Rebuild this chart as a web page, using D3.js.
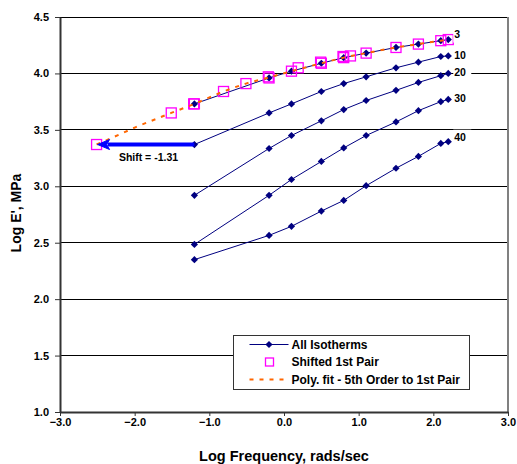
<!DOCTYPE html>
<html><head><meta charset="utf-8">
<script src="https://cdn.jsdelivr.net/npm/d3@7"></script>
<style>
html,body{margin:0;padding:0;background:#fff;}
text{font-family:"Liberation Sans",Arial,sans-serif;font-weight:bold;fill:#000;}
</style></head>
<body><svg id="c" width="517" height="464"></svg>
<script>
// ---- data ----
const logFreq = [-1.2, -0.2, 0.1, 0.5, 0.8, 1.1, 1.5, 1.8, 2.1, 2.2];
const isoNames = ["3", "10", "20", "30", "40"];
const iso3  = [3.73, 3.96, 4.02, 4.09, 4.14, 4.18, 4.23, 4.26, 4.29, 4.30];
const iso10 = [3.37, 3.65, 3.73, 3.84, 3.91, 3.97, 4.05, 4.10, 4.15, 4.155];
const iso20 = [2.92, 3.335, 3.45, 3.58, 3.68, 3.76, 3.85, 3.92, 3.98, 4.00];
const iso30 = [2.485, 2.92, 3.06, 3.22, 3.34, 3.45, 3.57, 3.67, 3.75, 3.77];
const iso40 = [2.35, 2.565, 2.645, 2.78, 2.875, 3.005, 3.16, 3.265, 3.38, 3.395];
const shiftValue = -1.31;
const fitX = [-2.51, -2.2, -2.0, -1.7, -1.51, -1.2, -0.81, -0.51, -0.2, 0.1, 0.5, 0.8, 1.1, 1.5, 1.8, 2.1, 2.2];
const fitY = [3.37, 3.46, 3.52, 3.60, 3.65, 3.73, 3.84, 3.91, 3.965, 4.02, 4.09, 4.14, 4.18, 4.23, 4.26, 4.29, 4.30];
const xTicks = [-3, -2, -1, 0, 1, 2, 3];
const yTicks = [1.0, 1.5, 2.0, 2.5, 3.0, 3.5, 4.0, 4.5];
const legendLabels = ["All Isotherms", "Shifted 1st Pair", "Poly. fit - 5th Order to 1st Pair"];

// ---- build ----
const isotherms = [iso3, iso10, iso20, iso30, iso40];
const labelNudge = [-5, -1, -1, -1, -4];
const shifted = logFreq.map((f, i) => ({x: f, y: iso3[i]}))
  .concat(logFreq.map((f, i) => ({x: f + shiftValue, y: iso10[i]})));
const fit = fitX.map((x, i) => ({x, y: fitY[i]}));

const svg = d3.select("#c");
svg.append("rect").attr("width", 517).attr("height", 464).attr("fill", "#fff");
const L = 60, R = 508, T = 17, B = 412;
const x = d3.scaleLinear().domain([-3, 3]).range([L, R]);
const y = d3.scaleLinear().domain([1.0, 4.5]).range([B, T]);

// gridlines
svg.append("g").selectAll("line").data(yTicks.filter(v => v > 1.0)).join("line")
  .attr("x1", L).attr("x2", R).attr("y1", d => y(d)).attr("y2", d => y(d))
  .attr("stroke", "#000").attr("stroke-width", 1).attr("shape-rendering", "crispEdges");
// right border
svg.append("line").attr("x1", R).attr("x2", R).attr("y1", T).attr("y2", B)
  .attr("stroke", "#808080").attr("stroke-width", 2);

// axes
const fmt = d3.format(".1f");
const gx = svg.append("g").attr("transform", `translate(0,${B})`)
  .call(d3.axisBottom(x).tickValues(xTicks).tickFormat(fmt).tickSize(4).tickSizeOuter(0).tickPadding(2));
const gy = svg.append("g").attr("transform", `translate(${L},0)`)
  .call(d3.axisLeft(y).tickValues(yTicks).tickFormat(fmt).tickSize(5).tickSizeOuter(0).tickPadding(6));
[gx, gy].forEach(g => {
  g.selectAll("text").style("font-size", "11px").style("font-family", "'Liberation Sans',Arial,sans-serif").style("font-weight", "bold").attr("fill", "#000");
  g.selectAll("line").attr("stroke", "#333");
  g.select(".domain").attr("stroke", "#333").attr("stroke-width", 2);
});

// isotherm lines
const line = d3.line().x(d => x(d.x)).y(d => y(d.y));
const diamond = s => `M0,${-s}L${s},0L0,${s}L${-s},0Z`;
isotherms.forEach(vals => {
  const pts = logFreq.map((f, i) => ({x: f, y: vals[i]}));
  svg.append("path").datum(pts).attr("d", line).attr("fill", "none")
    .attr("stroke", "#000080").attr("stroke-width", 1);
  svg.append("g").selectAll("path").data(pts).join("path")
    .attr("transform", d => `translate(${x(d.x)},${y(d.y)})`)
    .attr("d", diamond(3.6)).attr("fill", "#000080");
});

// shifted squares
svg.append("g").selectAll("rect").data(shifted).join("rect")
  .attr("x", d => x(d.x) - 5).attr("y", d => y(d.y) - 5)
  .attr("width", 10).attr("height", 10)
  .attr("fill", "none").attr("stroke", "#FF00FF").attr("stroke-width", 1.3);

// poly fit
svg.append("path").datum(fit).attr("d", line.curve(d3.curveMonotoneX)).attr("fill", "none")
  .attr("stroke", "#FF6600").attr("stroke-width", 2).attr("stroke-dasharray", "4,6");

// shift arrow
const ax0 = x(logFreq[0]), ax1 = x(logFreq[0] + shiftValue), ay = y(iso10[0]);
svg.append("line").attr("x1", ax0).attr("x2", ax1 + 11).attr("y1", ay).attr("y2", ay)
  .attr("stroke", "#0000FF").attr("stroke-width", 4);
svg.append("path").attr("d", `M${ax1 + 1},${ay}L${ax1 + 13},${ay - 5}L${ax1 + 10},${ay}L${ax1 + 13},${ay + 5}Z`)
  .attr("fill", "#0000FF").attr("stroke", "#0000FF").attr("stroke-width", 1);
svg.append("text").attr("x", (ax0 + ax1) / 2 + 3).attr("y", ay + 16).attr("text-anchor", "middle")
  .style("font-size", "10.5px").text("Shift = " + shiftValue.toFixed(2));

// series labels
isotherms.forEach((vals, k) => {
  const last = vals[vals.length - 1];
  const ly = y(last) + labelNudge[k];
  const lx = x(logFreq[logFreq.length - 1]) + 6;
  svg.append("rect").attr("x", lx - 1).attr("y", ly - 8).attr("width", 18).attr("height", 16).attr("fill", "#fff");
  svg.append("text").attr("x", lx).attr("y", ly).attr("dy", "0.35em")
    .style("font-size", "10.5px").text(isoNames[k]);
});

// legend
const lg = svg.append("g").attr("transform", "translate(233.5,335.5)");
lg.append("rect").attr("width", 236).attr("height", 54).attr("fill", "#fff").attr("stroke", "#333").attr("stroke-width", 1);
const rowY = [9, 26.5, 44];
lg.append("line").attr("x1", 16).attr("x2", 55).attr("y1", rowY[0]).attr("y2", rowY[0]).attr("stroke", "#000080").attr("stroke-width", 1);
lg.append("path").attr("transform", `translate(35.5,${rowY[0]})`).attr("d", diamond(3.6)).attr("fill", "#000080");
lg.append("rect").attr("x", 32).attr("y", rowY[1] - 4).attr("width", 8).attr("height", 8)
  .attr("fill", "none").attr("stroke", "#FF00FF").attr("stroke-width", 1.3);
lg.append("line").attr("x1", 16).attr("x2", 56).attr("y1", rowY[2]).attr("y2", rowY[2])
  .attr("stroke", "#FF6600").attr("stroke-width", 2).attr("stroke-dasharray", "4,6");
legendLabels.forEach((t, i) => {
  lg.append("text").attr("x", 58).attr("y", rowY[i]).attr("dy", "0.36em").style("font-size", "12px").text(t);
});

// axis titles
svg.append("text").attr("x", 284).attr("y", 461).attr("text-anchor", "middle")
  .style("font-size", "14.5px").text("Log Frequency, rads/sec");
svg.append("text").attr("transform", "translate(21,213) rotate(-90)").attr("text-anchor", "middle")
  .style("font-size", "14px").text("Log E', MPa");
</script></body></html>
